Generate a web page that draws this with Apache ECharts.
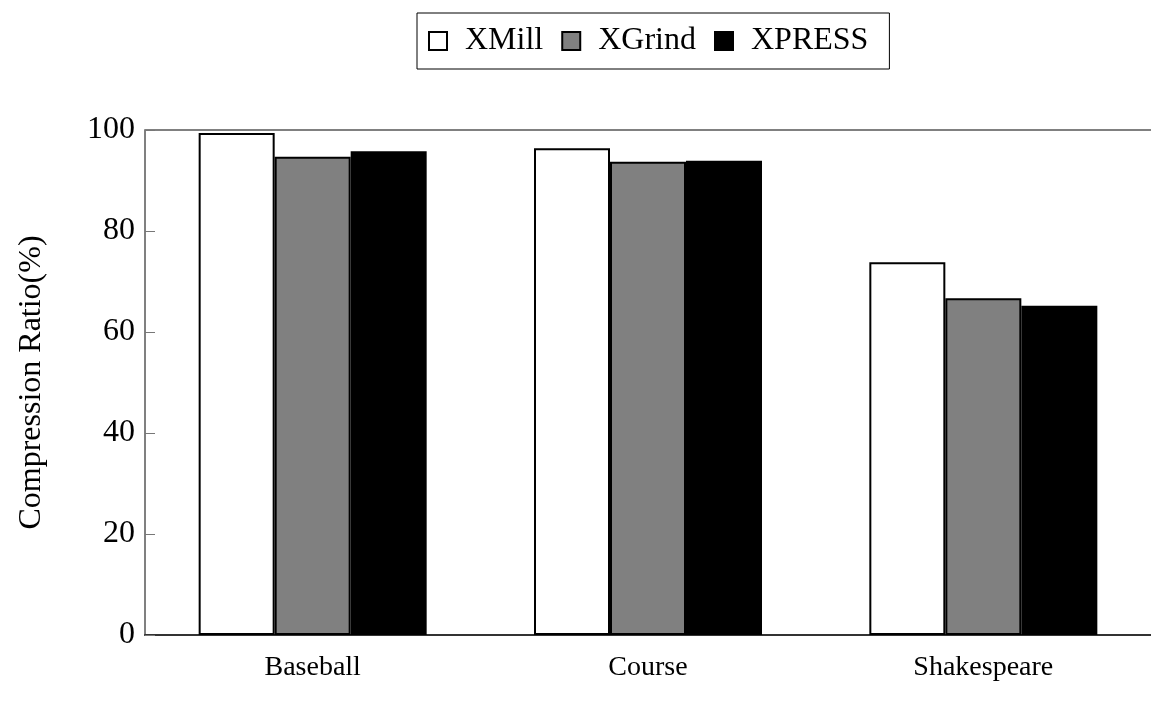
<!DOCTYPE html>
<html>
<head>
<meta charset="utf-8">
<script src="https://cdn.jsdelivr.net/npm/echarts@6/dist/echarts.min.js"></script>
<style>
  html, body { margin: 0; padding: 0; background: #fff; }
  #chart { width: 1151px; height: 709px; }
</style>
</head>
<body>
<div id="chart"></div>
<script>
const categories = ['Baseball', 'Course', 'Shakespeare'];
const xmill = [99.4, 96.4, 73.8];
const xgrind = [94.7, 93.7, 66.7];
const xpress = [95.8, 93.9, 65.2];
const yTicks = [0, 20, 40, 60, 80, 100];

const myChart = echarts.init(document.getElementById('chart'));
const font = 'Liberation Serif';

const barStyle = (color) => ({
  color: color,
  borderColor: '#000',
  borderWidth: 2
});

const option = {
  animation: false,
  textStyle: { fontFamily: font },
  legend: {
    left: 417,
    top: 13,
    padding: [12, 21, 12, 11],
    borderColor: '#000',
    borderWidth: 1,
    icon: 'rect',
    itemWidth: 18,
    itemHeight: 18,
    itemGap: 18,
    itemStyle: { borderColor: '#000', borderWidth: 2 },
    textStyle: { fontFamily: font, fontSize: 32, color: '#000', padding: [0, 0, 0, 13] },
    data: ['XMill', 'XGrind', 'XPRESS']
  },
  grid: { left: 145, top: 130, width: 1021, height: 505 },
  xAxis: {
    type: 'category',
    data: categories,
    axisLine: { lineStyle: { color: '#333', width: 2 } },
    axisTick: { inside: true, length: 10, lineStyle: { color: '#555' } },
    axisLabel: { fontFamily: font, fontSize: 28, color: '#000', margin: 19 }
  },
  yAxis: {
    type: 'value',
    min: yTicks[0],
    max: yTicks[yTicks.length - 1],
    interval: 20,
    name: 'Compression Ratio(%)',
    nameLocation: 'middle',
    nameGap: 97,
    nameTextStyle: { fontFamily: font, fontSize: 32, color: '#000' },
    axisLine: { show: true, lineStyle: { color: '#808080', width: 2 } },
    axisTick: { show: true, inside: true, length: 10, lineStyle: { color: '#777' } },
    axisLabel: { fontFamily: font, fontSize: 32, color: '#000', margin: 10 },
    splitLine: {
      show: true,
      lineStyle: { color: ['none', 'none', 'none', 'none', 'none', '#808080'], width: 2 }
    }
  },
  series: [
    { name: 'XMill', type: 'bar', data: xmill, barWidth: 76, barGap: '0%', itemStyle: barStyle('#fff') },
    { name: 'XGrind', type: 'bar', data: xgrind, barWidth: 76, barGap: '0%', itemStyle: barStyle('#808080') },
    { name: 'XPRESS', type: 'bar', data: xpress, barWidth: 76, barGap: '0%', itemStyle: barStyle('#000') }
  ]
};

myChart.setOption(option);
</script>
</body>
</html>
